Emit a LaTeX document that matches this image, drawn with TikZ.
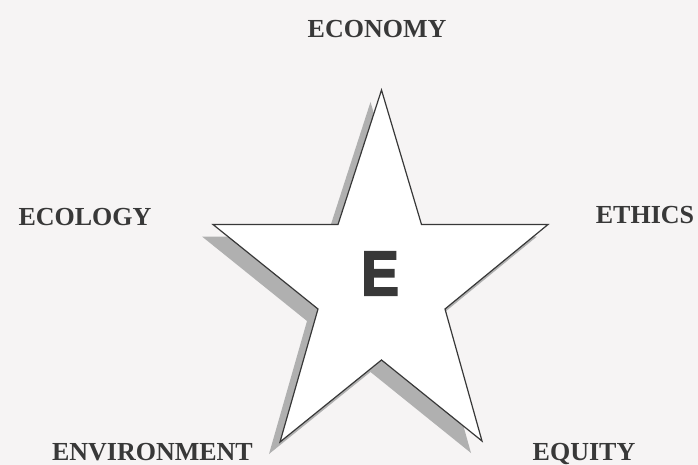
\documentclass[tikz,border=0pt]{standalone}
\usepackage{fontspec}
\setmainfont{Liberation Serif}
\newfontfamily\lblfont{Liberation Serif Bold}
\newfontfamily\letterfont[FakeBold=3]{Liberation Sans Bold}
\usepackage{xcolor}
\definecolor{PaperGray}{HTML}{F6F4F4}
\definecolor{InkGray}{HTML}{383838}
\definecolor{ShadowGray}{HTML}{B0B0B0}

\begin{document}
\begin{tikzpicture}[x=1pt, y=-1pt,
    lbl/.style={font=\lblfont\fontsize{26}{26}\selectfont, text=InkGray, inner sep=0pt, anchor=base},
    starline/.style={draw=InkGray, line width=1.2pt, line join=miter, fill=white}]
      \fill[PaperGray] (0,0) rectangle (698,465);
      \useasboundingbox (0,0) rectangle (698,465);
      % star corners
      \coordinate (top) at (381.5,90);
      \coordinate (ur) at (421.5,224.5);
      \coordinate (rt) at (548,224.5);
      \coordinate (lr) at (445,309);
      \coordinate (br) at (482,441);
      \coordinate (bi) at (381.5,360);
      \coordinate (bl) at (280,442);
      \coordinate (ll) at (318,309);
      \coordinate (lt) at (213,224.5);
      \coordinate (ul) at (338,224.5);
      % shadow, then star
      \fill[ShadowGray] \foreach \p [count=\i] in {top,ur,rt,lr,br,bi,bl,ll,lt,ul}{
            \ifnum\i=1 ([shift={(-11,12)}]\p) \else -- ([shift={(-11,12)}]\p) \fi} -- cycle;
      \draw[starline] (top) -- (ur) -- (rt) -- (lr) -- (br) -- (bi)
            -- (bl) -- (ll) -- (lt) -- (ul) -- cycle;
      \node[inner sep=0pt, xscale=0.9, text=InkGray,
            font=\letterfont\fontsize{63}{63}\selectfont] (E) at (380,273.5) {E};
      % labels
      \node[lbl] (economy) at (377,38) {ECONOMY};
      \node[lbl] (ecology) at (85,225) {ECOLOGY};
      \node[lbl] (ethics) at (645,223) {ETHICS};
      \node[lbl, anchor=base east] (environment) at (253,460) {ENVIRONMENT};
      \node[lbl] (equity) at (584,460) {EQUITY};
    \end{tikzpicture}
\end{document}
